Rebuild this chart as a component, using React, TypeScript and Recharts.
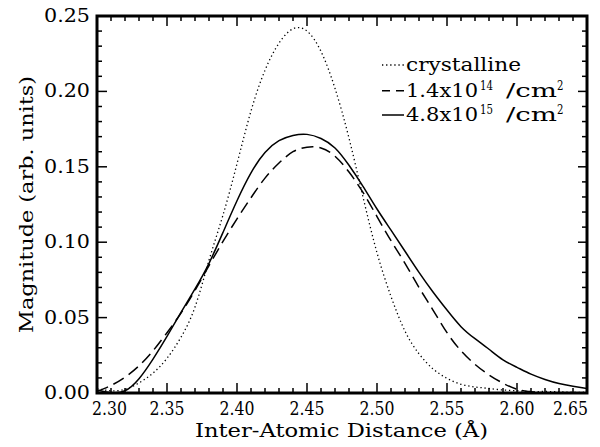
import React from 'react';
import { LineChart, Line, XAxis, YAxis, Customized } from 'recharts';

const distance = [2.30, 2.31, 2.32, 2.33, 2.34, 2.35, 2.36, 2.37, 2.38, 2.39, 2.40, 2.41, 2.42, 2.43, 2.44, 2.45, 2.46, 2.47, 2.48, 2.49, 2.50, 2.51, 2.52, 2.53, 2.54, 2.55, 2.56, 2.57, 2.58, 2.59, 2.60, 2.61, 2.62, 2.63, 2.64, 2.65];
const crystalline = [0.003, 0.0015, 0.0025, 0.0067, 0.0132, 0.023, 0.037, 0.057, 0.088, 0.118, 0.152, 0.187, 0.214, 0.232, 0.2415, 0.240, 0.2265, 0.202, 0.169, 0.130, 0.093, 0.064, 0.041, 0.026, 0.016, 0.0097, 0.0058, 0.004, 0.003, 0.002, 0.0015, 0.001, 0.001, 0.0008, 0.0005, 0.0005];
const dose14 = [0.001, 0.005, 0.0105, 0.018, 0.028, 0.040, 0.053, 0.068, 0.0845, 0.1005, 0.1155, 0.1295, 0.1425, 0.1525, 0.160, 0.163, 0.1625, 0.157, 0.1465, 0.133, 0.117, 0.101, 0.086, 0.070, 0.055, 0.040, 0.028, 0.019, 0.012, 0.0065, 0.0025, 0.0008, 0.0001, 0, 0, 0];
const dose15 = [0.002, 0.0003, 0.0015, 0.0095, 0.0225, 0.0375, 0.0535, 0.069, 0.086, 0.1065, 0.1275, 0.146, 0.1595, 0.1673, 0.1708, 0.1715, 0.1688, 0.1625, 0.151, 0.137, 0.122, 0.108, 0.094, 0.080, 0.067, 0.055, 0.044, 0.036, 0.029, 0.022, 0.017, 0.0125, 0.009, 0.0063, 0.0045, 0.003];

const xMajorTicks = [2.30, 2.35, 2.40, 2.45, 2.50, 2.55, 2.60, 2.65];
const xMinorTicks = [2.30, 2.31, 2.32, 2.33, 2.34, 2.35, 2.36, 2.37, 2.38, 2.39, 2.40, 2.41, 2.42, 2.43, 2.44, 2.45, 2.46, 2.47, 2.48, 2.49, 2.50, 2.51, 2.52, 2.53, 2.54, 2.55, 2.56, 2.57, 2.58, 2.59, 2.60, 2.61, 2.62, 2.63, 2.64, 2.65];
const yMajorTicks = [0, 0.05, 0.10, 0.15, 0.20, 0.25];
const yMinorTicks = [0, 0.01, 0.02, 0.03, 0.04, 0.05, 0.06, 0.07, 0.08, 0.09, 0.10, 0.11, 0.12, 0.13, 0.14, 0.15, 0.16, 0.17, 0.18, 0.19, 0.20, 0.21, 0.22, 0.23, 0.24, 0.25];

const X_MIN = 2.30;
const X_MAX = 2.65;
const Y_MIN = 0;
const Y_MAX = 0.25;

// chart geometry (set through margins and axis sizes below)
const CHART_W = 600;
const CHART_H = 447;
const MARGIN = { top: 16, right: 13, bottom: 0, left: 0 };
const Y_AXIS_W = 97;
const X_AXIS_H = 54;
const PLOT_L = MARGIN.left + Y_AXIS_W;
const PLOT_R = CHART_W - MARGIN.right;
const PLOT_T = MARGIN.top;
const PLOT_B = CHART_H - MARGIN.bottom - X_AXIS_H;

const data = distance.map((x, i) => ({ x, c: crystalline[i], d: dose14[i], s: dose15[i] }));

const FONT = "'DejaVu Serif', serif";
const near = (a: number, b: number) => Math.abs(a - b) < 1e-6;
const isMajor = (v: number, majors: number[]) => majors.some((m) => near(m, v));
const tickX = (v: number) => PLOT_L + ((v - X_MIN) / (X_MAX - X_MIN)) * (PLOT_R - PLOT_L);
const tickY = (v: number) => PLOT_B - ((v - Y_MIN) / (Y_MAX - Y_MIN)) * (PLOT_B - PLOT_T);

const BottomTick = (props: any) => {
  const { x, y, payload } = props;
  const v = payload.value as number;
  let anchor: any = 'middle';
  let tx = x;
  if (near(v, 2.30)) { anchor = 'start'; tx = x - 5; }
  if (near(v, 2.65)) { anchor = 'end'; tx = x + 1; }
  return (
    <text x={tx} y={y + 22} textAnchor={anchor} fontFamily={FONT} fontSize={18} fill="#000" textLength={35} lengthAdjust="spacingAndGlyphs">
      {v.toFixed(2)}
    </text>
  );
};

const LeftTick = (props: any) => {
  const { x, y, payload } = props;
  const v = payload.value as number;
  return (
    <text x={x - 7} y={y + 6} textAnchor="end" fontFamily={FONT} fontSize={18} fill="#000" textLength={46} lengthAdjust="spacingAndGlyphs">
      {v.toFixed(2)}
    </text>
  );
};

const Frame = () => (
  <g stroke="#000" fill="none">
    {xMinorTicks.map((v) => {
      const len = isMajor(v, xMajorTicks) ? 10 : 5;
      const x = tickX(v);
      return (
        <g key={'xt' + v}>
          <line x1={x} y1={PLOT_B} x2={x} y2={PLOT_B - len} strokeWidth={1.5} />
          <line x1={x} y1={PLOT_T} x2={x} y2={PLOT_T + len} strokeWidth={1.5} />
        </g>
      );
    })}
    {yMinorTicks.map((v) => {
      const major = isMajor(v, yMajorTicks);
      const y = tickY(v);
      return (
        <g key={'yt' + v}>
          <line x1={PLOT_L} y1={y} x2={PLOT_L + (major ? 10 : 5)} y2={y} strokeWidth={1.5} />
          <line x1={PLOT_R} y1={y} x2={PLOT_R - (major ? 9 : 5)} y2={y} strokeWidth={1.5} />
        </g>
      );
    })}
    <rect x={PLOT_L} y={PLOT_T} width={PLOT_R - PLOT_L} height={PLOT_B - PLOT_T} strokeWidth={3} />
  </g>
);

const Annotations = () => (
  <g fontFamily={FONT} fill="#000">
    <text x={195} y={437} fontSize={18} textLength={293} lengthAdjust="spacingAndGlyphs">Inter-Atomic Distance (Å)</text>
    <text x={33} y={204.5} fontSize={18} textAnchor="middle" transform="rotate(-90 33 204.5)" textLength={257} lengthAdjust="spacingAndGlyphs">Magnitude (arb. units)</text>

    <line x1={382} y1={65} x2={404} y2={65} stroke="#000" strokeWidth={1.3} strokeDasharray="1.3 2.8" />
    <text x={406} y={71} fontSize={18} textLength={115} lengthAdjust="spacingAndGlyphs">crystalline</text>

    <line x1={382} y1={90.7} x2={404} y2={90.7} stroke="#000" strokeWidth={1.5} strokeDasharray="8 6" />
    <text x={406} y={97} fontSize={18} textLength={72} lengthAdjust="spacingAndGlyphs">1.4x10</text>
    <text x={480} y={90} fontSize={12} textLength={13} lengthAdjust="spacingAndGlyphs">14</text>
    <text x={506} y={97} fontSize={18} textLength={51} lengthAdjust="spacingAndGlyphs">/cm</text>
    <text x={557} y={90} fontSize={12} textLength={6.5} lengthAdjust="spacingAndGlyphs">2</text>

    <line x1={382} y1={115} x2={404} y2={115} stroke="#000" strokeWidth={1.5} />
    <text x={406} y={121} fontSize={18} textLength={72} lengthAdjust="spacingAndGlyphs">4.8x10</text>
    <text x={480} y={114} fontSize={12} textLength={13} lengthAdjust="spacingAndGlyphs">15</text>
    <text x={506} y={121} fontSize={18} textLength={51} lengthAdjust="spacingAndGlyphs">/cm</text>
    <text x={557} y={114} fontSize={12} textLength={6.5} lengthAdjust="spacingAndGlyphs">2</text>
  </g>
);

export default function App() {
  return (
    <div style={{ position: 'absolute', left: 0, top: 0, background: '#fff' }}>
      <LineChart width={CHART_W} height={CHART_H} data={data} margin={MARGIN}>
        <XAxis
          dataKey="x"
          type="number"
          domain={[X_MIN, X_MAX]}
          ticks={xMajorTicks}
          interval={0}
          tickSize={0}
          tickMargin={0}
          tickLine={false}
          tick={(p: any) => <BottomTick {...p} />}
          height={X_AXIS_H}
          axisLine={false}
        />
        <YAxis
          type="number"
          domain={[Y_MIN, Y_MAX]}
          ticks={yMajorTicks}
          interval={0}
          tickSize={0}
          tickMargin={0}
          tickLine={false}
          tick={(p: any) => <LeftTick {...p} />}
          width={Y_AXIS_W}
          axisLine={false}
        />
        <Line dataKey="c" type="natural" stroke="#000" strokeWidth={1.3} strokeDasharray="1.3 2.8" dot={false} activeDot={false} isAnimationActive={false} />
        <Line dataKey="d" type="natural" stroke="#000" strokeWidth={1.5} strokeDasharray="12 6" dot={false} activeDot={false} isAnimationActive={false} />
        <Line dataKey="s" type="natural" stroke="#000" strokeWidth={1.5} dot={false} activeDot={false} isAnimationActive={false} />
        <Customized component={Frame} />
        <Customized component={Annotations} />
      </LineChart>
    </div>
  );
}
